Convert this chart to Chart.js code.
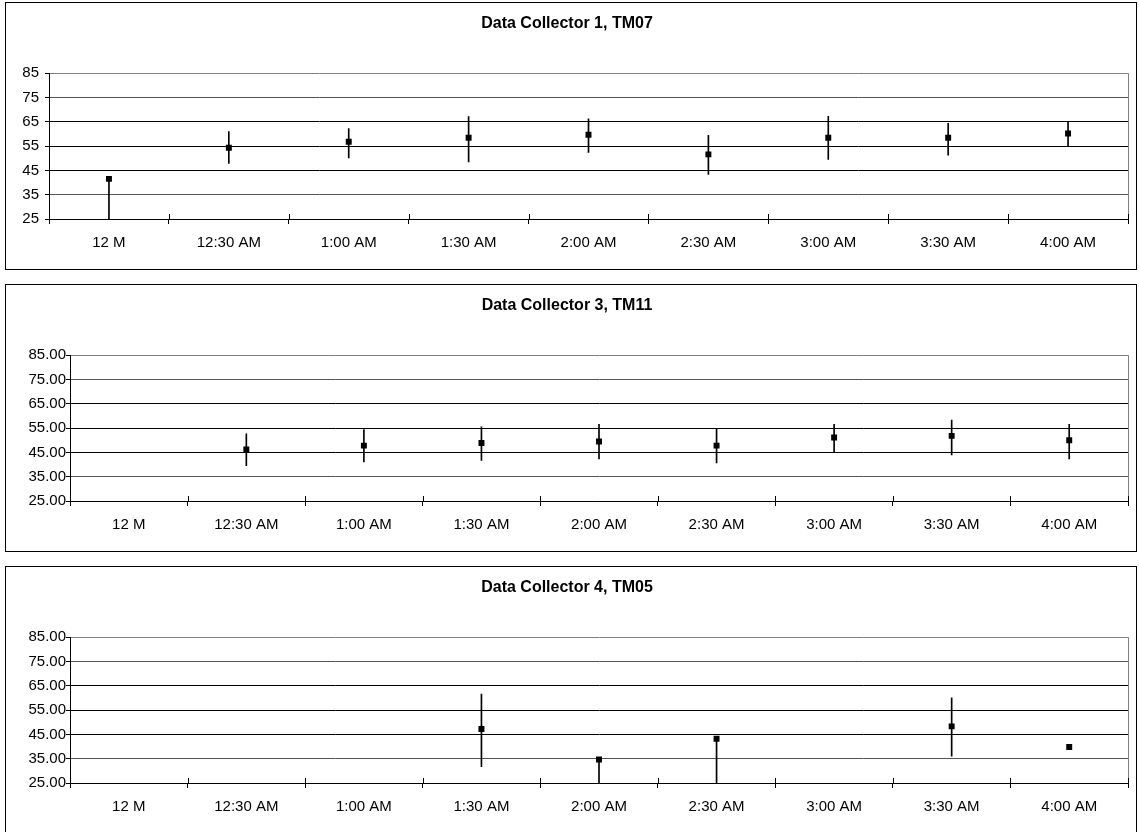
<!DOCTYPE html>
<html>
<head>
<meta charset="utf-8">
<script src="https://cdn.jsdelivr.net/npm/chart.js@4.4.1/dist/chart.umd.min.js"></script>
<style>
html,body{margin:0;padding:0;background:#fff;width:1139px;height:832px;overflow:hidden;}
.panel{position:absolute;left:5px;width:1130px;height:266px;border:1px solid #000;background:#fff;}
.panel canvas{display:block;}
</style>
</head>
<body>
<div class="panel" style="top:2px"><canvas id="c1" width="1130" height="266"></canvas></div>
<div class="panel" style="top:284px"><canvas id="c2" width="1130" height="266"></canvas></div>
<div class="panel" style="top:566px"><canvas id="c3" width="1130" height="266"></canvas></div>
<script>
// ---- data ----
const categories = ['12 M', '12:30 AM', '1:00 AM', '1:30 AM', '2:00 AM', '2:30 AM', '3:00 AM', '3:30 AM', '4:00 AM'];
const yTicks = [25, 35, 45, 55, 65, 75, 85];
const titles = ['Data Collector 1, TM07', 'Data Collector 3, TM11', 'Data Collector 4, TM05'];
const yDecimals = [0, 2, 2];

const dc1Mean = [41.5, 54.3, 56.8, 58.4, 59.7, 51.6, 58.4, 58.4, 60.2];
const dc1High = [41.8, 61.0, 62.2, 67.1, 66.2, 59.4, 67.3, 64.4, 64.8];
const dc1Low  = [20.0, 47.9, 50.1, 48.5, 52.4, 43.3, 49.5, 51.3, 55.2];

const dc3Mean = [null, 46.2, 47.8, 48.9, 49.5, 47.8, 51.1, 51.8, 50.0];
const dc3High = [null, 52.6, 54.4, 55.5, 56.6, 54.8, 56.6, 58.3, 56.6];
const dc3Low  = [null, 39.5, 41.1, 41.7, 42.3, 40.7, 45.2, 44.0, 42.3];

const dc4Mean = [null, null, null, 47.2, 34.7, 43.2, null, 48.3, 39.8];
const dc4High = [null, null, null, 61.6, 35.0, 43.5, null, 60.0, 40.2];
const dc4Low  = [null, null, null, 31.7, 20.0, 20.0, null, 36.0, 39.4];

// ---- rendering ----
const FONT = '"Liberation Sans", Arial, sans-serif';

const framePlugin = {
  id: 'frame',
  afterDatasetsDraw(chart) {
    const { ctx, chartArea: a, scales: { x } } = chart;
    ctx.save();
    ctx.lineWidth = 1;
    ctx.strokeStyle = '#808080';
    const rx = Math.round(a.right) + 0.5;
    ctx.beginPath();
    ctx.moveTo(rx, a.top);
    ctx.lineTo(rx, a.bottom);
    ctx.stroke();
    // upper halves of the crossing category ticks
    ctx.strokeStyle = '#000';
    ctx.beginPath();
    for (let i = 1; i <= categories.length; i++) {
      const px = Math.round(x.getPixelForValue(i - 0.5)) + 0.5;
      ctx.moveTo(px, a.bottom);
      ctx.lineTo(px, a.bottom - 5);
    }
    ctx.stroke();
    ctx.restore();
  }
};

function gridColor(c) {
  const v = c.tick && c.tick.value;
  if (v === 85) return '#808080';
  if (v === 75 || v === 35) return '#555';
  return '#000';
}

function makeChart(id, idx, mean, high, low, axisWidth, labelPad) {
  const ranges = mean.map((m, i) => (m === null ? null : [low[i], high[i]]));
  return new Chart(document.getElementById(id), {
    data: {
      labels: categories,
      datasets: [
        {
          type: 'bar',
          data: ranges,
          barThickness: 1,
          backgroundColor: '#000',
          borderWidth: 0,
          order: 2
        },
        {
          type: 'line',
          data: mean,
          showLine: false,
          pointStyle: 'rect',
          pointRadius: 4.2,
          pointHoverRadius: 4.2,
          pointBackgroundColor: '#000',
          pointBorderColor: '#000',
          pointBorderWidth: 0,
          order: 1
        }
      ]
    },
    options: {
      responsive: false,
      animation: false,
      events: [],
      layout: { padding: { left: 0, right: 8, top: 0, bottom: 0 } },
      plugins: {
        legend: { display: false },
        tooltip: { enabled: false },
        title: {
          display: true,
          text: titles[idx],
          color: '#000',
          font: { family: FONT, size: 16, weight: 'bold' },
          padding: { top: 11, bottom: 40 }
        }
      },
      scales: {
        x: {
          type: 'category',
          offset: true,
          grid: { offset: true, drawOnChartArea: false, drawTicks: true, tickLength: 5, color: '#000' },
          border: { color: '#000', width: 1 },
          ticks: { color: '#000', font: { family: FONT, size: 15 }, padding: 10, maxRotation: 0, autoSkip: false },
          afterFit(s) { s.height = 50; }
        },
        y: {
          min: 25,
          max: 85,
          afterBuildTicks(s) { s.ticks = yTicks.map(v => ({ value: v })); },
          grid: { color: gridColor, tickColor: '#000', tickLength: 4, drawTicks: true },
          border: { color: '#000', width: 1 },
          ticks: {
            color: '#000',
            font: { family: FONT, size: 15 },
            padding: labelPad,
            callback: v => Number(v).toFixed(yDecimals[idx])
          },
          afterFit(s) { s.width = axisWidth; }
        }
      }
    },
    plugins: [framePlugin]
  });
}

makeChart('c1', 0, dc1Mean, dc1High, dc1Low, 43, 6);
makeChart('c2', 1, dc3Mean, dc3High, dc3Low, 64, 0);
makeChart('c3', 2, dc4Mean, dc4High, dc4Low, 64, 0);
</script>
</body>
</html>
